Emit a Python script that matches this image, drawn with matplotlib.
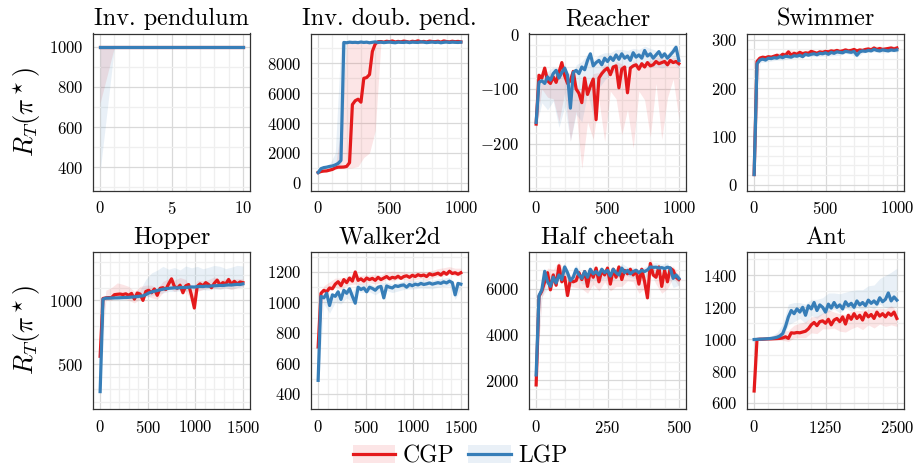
import numpy as np
import matplotlib
matplotlib.use("Agg")
import matplotlib.pyplot as plt
from matplotlib.ticker import FixedLocator, AutoMinorLocator
from matplotlib.patches import Patch
from matplotlib.lines import Line2D

plt.rcParams["font.family"] = "serif"
plt.rcParams["font.serif"] = ["cmr10"]
plt.rcParams["mathtext.fontset"] = "cm"
plt.rcParams["axes.formatter.use_mathtext"] = True

RED, BLUE = "#e41a1c", "#377eb8"

# ── data ────────────────────────────────────────────────────────────────────
# Inv. pendulum, every step (band stride 1)
pend_x = np.arange(0, 11, 1)
pend_cgp = [1000, 1000, 1000, 1000, 1000, 1000, 1000, 1000, 1000, 1000, 1000]
pend_lgp = [1000, 1000, 1000, 1000, 1000, 1000, 1000, 1000, 1000, 1000, 1000]
pend_cgp_dn = [280, 0, 0, 0, 0, 0, 0, 0, 0, 0, 0]
pend_cgp_up = [0, 0, 0, 0, 0, 0, 0, 0, 0, 0, 0]
pend_lgp_dn = [620, 0, 0, 0, 0, 0, 0, 0, 0, 0, 0]
pend_lgp_up = [0, 0, 0, 0, 0, 0, 0, 0, 0, 0, 0]

# Inv. double pendulum, step 20 (bands every 40)
doub_x = np.arange(0, 1001, 20)
doub_cgp = [690, 760, 790, 800, 850, 900, 1000, 1050, 1050, 1060, 1100, 1350,
            5240, 5500, 5600, 5400, 7000, 7050, 7250, 8800, 9300, 9450,
            9460, 9420, 9480, 9450, 9500, 9430, 9470, 9440, 9490, 9460, 9420,
            9480, 9450, 9510, 9440, 9470, 9430, 9490, 9460, 9450, 9480, 9420,
            9500, 9460, 9440, 9480, 9450, 9470, 9440]
doub_lgp = [690, 950, 1020, 1050, 1100, 1130, 1200, 1300, 1500, 9400,
            9380, 9420, 9400, 9410, 9390, 9430, 9400, 9420, 9380, 9410, 9440,
            9400, 9420, 9390, 9410, 9430, 9400, 9380, 9420, 9410, 9400, 9430,
            9390, 9420, 9410, 9400, 9440, 9420, 9390, 9410, 9430, 9400, 9420,
            9380, 9410, 9430, 9400, 9420, 9410, 9400, 9420]
doub_cgp_dn = [60, 60, 60, 80, 100, 150, 4240, 4500, 5300, 5250, 5800, 60, 40,
               40, 40, 40, 40, 40, 40, 40, 40, 40, 40, 40, 40, 40]
doub_cgp_up = [60, 60, 80, 100, 2500, 8300, 4200, 3850, 2450, 2200, 150, 50, 40,
               40, 40, 40, 40, 40, 40, 40, 40, 40, 40, 40, 40, 40]
doub_lgp_dn = [60, 80, 80, 100, 300, 40, 40, 30, 30, 30, 30, 30, 30,
               30, 30, 30, 30, 30, 30, 30, 30, 30, 30, 30, 30, 30]
doub_lgp_up = [60, 80, 120, 800, 7900, 40, 40, 30, 30, 30, 30, 30, 30,
               30, 30, 30, 30, 30, 30, 30, 30, 30, 30, 30, 30, 30]

# Reacher, step 20
reach_x = np.arange(0, 1001, 20)
reach_cgp = [-164, -75, -80, -62, -85, -90, -78, -88, -70, -52, -76, -90, -85,
             -68, -100, -108, -125, -80, -110, -95, -82, -156, -80, -72, -66,
             -62, -74, -60, -58, -98, -64, -60, -107, -62, -58, -56, -64, -54,
             -60, -52, -58, -56, -50, -54, -52, -50, -56, -48, -52, -50, -54]
reach_lgp = [-161, -88, -85, -90, -78, -84, -72, -66, -80, -70, -62, -75, -135,
             -70, -66, -72, -60, -65, -48, -36, -58, -52, -48, -56, -44, -50,
             -42, -48, -38, -46, -36, -44, -40, -48, -34, -42, -38, -44, -30,
             -40, -36, -44, -38, -32, -42, -36, -44, -38, -32, -24, -48]
reach_cgp_dn = [10, 20, 30, 40, 90, 30, 110, 40, 120, 50, 110, 40, 130, 30, 60,
                120, 30, 150, 40, 60, 130, 40, 140, 60, 30, 100]
reach_cgp_up = [8, 10, 12, 10, 12, 10, 12, 10, 12, 10, 10, 10, 12, 10, 8, 10,
                12, 10, 8, 10, 10, 8, 10, 8, 10, 10]
reach_lgp_dn = [10, 40, 60, 50, 90, 70, 60, 80, 100, 60, 90, 50, 40, 30, 30, 25,
                20, 25, 20, 20, 25, 20, 20, 15, 20, 15]
reach_lgp_up = [8, 10, 10, 12, 10, 10, 12, 10, 10, 12, 10, 10, 10, 8, 10, 8, 10,
                8, 10, 8, 10, 8, 10, 8, 10, 8]

# Swimmer, step 20
swim_x = np.arange(0, 1001, 20)
swim_cgp = [21, 255, 262, 264, 263, 265, 264, 266, 268, 265, 270, 268, 275, 268,
            272, 270, 274, 271, 273, 272, 276, 274, 272, 275, 274, 276, 275, 277,
            276, 278, 276, 277, 279, 277, 278, 280, 277, 279, 278, 280, 281, 279,
            283, 280, 282, 280, 281, 282, 283, 281, 283]
swim_lgp = [21, 250, 258, 260, 258, 262, 261, 263, 262, 265, 263, 266, 265, 264,
            267, 266, 268, 265, 270, 268, 270, 271, 269, 272, 271, 273, 270, 274,
            272, 275, 274, 273, 276, 275, 274, 276, 268, 275, 277, 276, 278, 277,
            280, 278, 277, 279, 278, 277, 279, 278, 279]
swim_cgp_dn = [10, 5, 4, 4, 5, 4, 5, 6, 4, 5, 4, 5, 4, 6, 5, 4, 5, 4, 5, 4, 5, 4,
               5, 4, 5, 4]
swim_cgp_up = [10, 5, 4, 4, 5, 4, 5, 6, 4, 5, 4, 5, 4, 6, 5, 4, 5, 4, 5, 4, 5, 4,
               5, 4, 5, 4]
swim_lgp_dn = [10, 5, 4, 5, 4, 5, 4, 5, 6, 4, 5, 4, 5, 4, 5, 6, 4, 5, 4, 5, 4, 5,
               4, 5, 4, 5]
swim_lgp_up = [10, 5, 4, 5, 4, 5, 4, 5, 6, 4, 5, 4, 5, 4, 5, 6, 4, 5, 4, 5, 4, 5,
               4, 5, 4, 5]

# Hopper, step 30
hop_x = np.arange(0, 1501, 30)
hop_cgp = [560, 1015, 1020, 1022, 1022, 1045, 1048, 1050, 1046, 1052, 1040, 1055,
           1010, 1058, 1050, 1000, 1070, 1080, 1060, 1090, 1040, 1095, 1100, 1085,
           1130, 1170, 1110, 1095, 1120, 1060, 1115, 1125, 1040, 940, 1110, 1130,
           1115, 1140, 1125, 1100, 1135, 1160, 1120, 1140, 1130, 1165, 1125, 1150,
           1130, 1145, 1140]
hop_lgp = [282, 1010, 1018, 1018, 1019, 1020, 1020, 1021, 1022, 1023, 1024, 1026,
           1028, 1030, 1033, 1036, 1045, 1058, 1066, 1072, 1078, 1083, 1088, 1092,
           1095, 1097, 1099, 1098, 1100, 1102, 1101, 1104, 1106, 1105, 1108, 1110,
           1109, 1112, 1111, 1114, 1115, 1116, 1118, 1117, 1120, 1122, 1121, 1124,
           1126, 1125, 1130]
hop_cgp_dn = [20, 20, 20, 25, 30, 40, 30, 40, 30, 40, 30, 40, 30, 40, 30, 40, 50,
              40, 30, 30, 40, 30, 30, 40, 30, 30]
hop_cgp_up = [20, 60, 80, 90, 80, 70, 60, 60, 50, 60, 50, 50, 40, 50, 60, 50, 40,
              50, 40, 40, 50, 40, 40, 40, 40, 30]
hop_lgp_dn = [20, 10, 10, 10, 10, 10, 15, 20, 20, 30, 25, 30, 25, 30, 25, 30, 25,
              30, 25, 30, 25, 30, 25, 30, 25, 25]
hop_lgp_up = [20, 10, 10, 10, 15, 20, 30, 50, 120, 150, 160, 180, 150, 160, 140,
              170, 150, 160, 140, 150, 160, 150, 130, 140, 150, 140]

# Walker2d, step 30
walk_x = np.arange(0, 1501, 30)
walk_cgp = [708, 1060, 1080, 1070, 1095, 1090, 1120, 1136, 1110, 1150, 1130, 1160,
            1140, 1200, 1145, 1155, 1140, 1160, 1150, 1158, 1145, 1165, 1150, 1160,
            1170, 1155, 1165, 1160, 1172, 1158, 1170, 1175, 1165, 1178, 1170, 1182,
            1175, 1180, 1170, 1188, 1180, 1185, 1192, 1180, 1198, 1185, 1205, 1190,
            1195, 1185, 1195]
walk_lgp = [489, 1040, 1030, 1060, 980, 1050, 1040, 1070, 1020, 1080, 1060, 1090,
            1040, 995, 1100, 1085, 1095, 1070, 1100, 1092, 1080, 1100, 1105, 1030,
            1108, 1100, 1095, 1110, 1105, 1112, 1115, 1100, 1118, 1110, 1120, 1115,
            1125, 1118, 1122, 1128, 1120, 1125, 1130, 1125, 1135, 1128, 1140, 1130,
            1050, 1125, 1120]
walk_cgp_dn = [20, 20, 20, 20, 25, 20, 20, 25, 20, 20, 25, 20, 20, 25, 20, 20, 25,
               20, 20, 25, 20, 20, 25, 20, 20, 20]
walk_cgp_up = [20, 30, 40, 40, 50, 40, 40, 30, 40, 30, 40, 30, 30, 40, 30, 30, 30,
               30, 30, 30, 30, 30, 30, 30, 30, 30]
walk_lgp_dn = [20, 40, 50, 40, 30, 30, 40, 30, 30, 30, 30, 30, 30, 30, 30, 30, 30,
               30, 30, 30, 30, 30, 30, 30, 30, 30]
walk_lgp_up = [20, 20, 30, 30, 30, 30, 30, 25, 25, 25, 25, 25, 25, 25, 25, 25, 25,
               25, 25, 25, 25, 25, 25, 25, 25, 25]

# Half cheetah, step 10
chee_x = np.arange(0, 501, 10)
chee_cgp = [1799, 5660, 5900, 6300, 6700, 5950, 6600, 6150, 7000, 6300, 6500,
            5700, 6400, 6300, 6350, 6700, 6400, 6750, 6100, 6800, 6500, 6900, 6300,
            6800, 6600, 6900, 6200, 6850, 6500, 6950, 6400, 6800, 6650, 6850, 6600,
            6800, 6200, 6850, 6300, 5600, 7100, 6600, 6500, 6950, 6100, 6800, 6300,
            6900, 6800, 6500, 6400]
chee_lgp = [2236, 5700, 5950, 6760, 6300, 6100, 6500, 6250, 6600, 6400, 6950,
            6700, 6350, 6500, 6850, 6600, 6450, 6750, 6500, 6850, 6650, 6750, 6600,
            6850, 6700, 6800, 6550, 6850, 6700, 6600, 6900, 6700, 6800, 6650, 6750,
            6800, 6700, 6800, 6750, 6820, 6950, 6930, 6940, 6900, 6920, 6880, 6940,
            6900, 6450, 6600, 6450]
chee_cgp_dn = [100, 300, 300, 400, 300, 400, 300, 300, 400, 300, 300, 400, 300,
               300, 400, 300, 300, 300, 400, 300, 400, 300, 300, 300, 300, 300]
chee_cgp_up = [100, 200, 200, 250, 200, 250, 200, 200, 250, 200, 200, 250, 200,
               200, 250, 200, 200, 200, 250, 200, 250, 200, 200, 200, 200, 200]
chee_lgp_dn = [100, 300, 300, 300, 250, 300, 250, 300, 250, 300, 250, 300, 250,
               300, 250, 300, 250, 300, 250, 300, 250, 300, 250, 300, 400, 300]
chee_lgp_up = [100, 200, 200, 200, 150, 200, 150, 200, 150, 200, 150, 200, 150,
               200, 150, 200, 150, 200, 150, 200, 150, 200, 150, 200, 150, 200]

# Ant, step 50
ant_x = np.arange(0, 2501, 50)
ant_cgp = [675, 998, 1000, 1000, 1001, 1002, 1002, 1003, 1004, 1005, 1008, 1015,
           1005, 1040, 1038, 1042, 1040, 1045, 1050, 1065, 1090, 1105, 1085, 1110,
           1115, 1100, 1125, 1090, 1120, 1130, 1110, 1140, 1095, 1150, 1125, 1160,
           1130, 1150, 1120, 1165, 1140, 1155, 1130, 1170, 1145, 1160, 1140, 1165,
           1150, 1170, 1130]
ant_lgp = [998, 999, 1000, 1001, 1002, 1003, 1005, 1008, 1012, 1020, 1035, 1080,
           1140, 1180, 1160, 1190, 1170, 1200, 1150, 1210, 1190, 1230, 1180, 1215,
           1200, 1170, 1220, 1195, 1230, 1200, 1215, 1190, 1235, 1210, 1225, 1200,
           1240, 1215, 1230, 1210, 1245, 1225, 1240, 1220, 1260, 1235, 1250, 1290,
           1240, 1265, 1245]
ant_cgp_dn = [10, 5, 5, 5, 10, 15, 20, 30, 30, 40, 50, 50, 50, 60, 50, 60, 50, 60,
              50, 60, 50, 60, 50, 60, 60, 50]
ant_cgp_up = [10, 5, 8, 15, 30, 40, 50, 50, 60, 60, 50, 60, 50, 60, 50, 50, 60, 50,
              50, 60, 50, 60, 50, 50, 60, 50]
ant_lgp_dn = [5, 5, 5, 10, 15, 30, 50, 50, 40, 50, 40, 50, 40, 50, 40, 50, 40, 50,
              40, 50, 40, 50, 40, 50, 40, 40]
ant_lgp_up = [5, 5, 10, 15, 30, 60, 80, 70, 60, 70, 60, 70, 60, 70, 60, 70, 60, 80,
              70, 80, 90, 100, 120, 150, 180, 200]

titles = ["Inv. pendulum", "Inv. doub. pend.", "Reacher", "Swimmer",
          "Hopper", "Walker2d", "Half cheetah", "Ant"]

# ── panel layout/options built from the arrays above ─────────────────────────
panels = [
    dict(x=pend_x, cgp=pend_cgp, lgp=pend_lgp, band=(pend_cgp_dn, pend_cgp_up, pend_lgp_dn, pend_lgp_up),
         stride=1, xt=[0, 5, 10], yt=[400, 600, 800, 1000], xl=(-0.5, 10.5), yl=(284, 1066), ym=2),
    dict(x=doub_x, cgp=doub_cgp, lgp=doub_lgp, band=(doub_cgp_dn, doub_cgp_up, doub_lgp_dn, doub_lgp_up),
         stride=2, xt=[0, 500, 1000], yt=[0, 2000, 4000, 6000, 8000], xl=(-50, 1050), yl=(-513, 10000), ym=2),
    dict(x=reach_x, cgp=reach_cgp, lgp=reach_lgp, band=(reach_cgp_dn, reach_cgp_up, reach_lgp_dn, reach_lgp_up),
         stride=2, xt=[0, 500, 1000], yt=[-200, -100, 0], xl=(-50, 1050), yl=(-285, 1), ym=5),
    dict(x=swim_x, cgp=swim_cgp, lgp=swim_lgp, band=(swim_cgp_dn, swim_cgp_up, swim_lgp_dn, swim_lgp_up),
         stride=2, xt=[0, 500, 1000], yt=[0, 100, 200, 300], xl=(-50, 1050), yl=(-12, 313), ym=5),
    dict(x=hop_x, cgp=hop_cgp, lgp=hop_lgp, band=(hop_cgp_dn, hop_cgp_up, hop_lgp_dn, hop_lgp_up),
         stride=2, xt=[0, 500, 1000, 1500], yt=[500, 1000], xl=(-75, 1575), yl=(145, 1381), ym=5),
    dict(x=walk_x, cgp=walk_cgp, lgp=walk_lgp, band=(walk_cgp_dn, walk_cgp_up, walk_lgp_dn, walk_lgp_up),
         stride=2, xt=[0, 500, 1000, 1500], yt=[400, 600, 800, 1000, 1200], xl=(-75, 1575), yl=(301, 1331), ym=2),
    dict(x=chee_x, cgp=chee_cgp, lgp=chee_lgp, band=(chee_cgp_dn, chee_cgp_up, chee_lgp_dn, chee_lgp_up),
         stride=2, xt=[0, 250, 500], yt=[2000, 4000, 6000], xl=(-25, 525), yl=(748, 7602), ym=5),
    dict(x=ant_x, cgp=ant_cgp, lgp=ant_lgp, band=(ant_cgp_dn, ant_cgp_up, ant_lgp_dn, ant_lgp_up),
         stride=2, xt=[0, 1250, 2500], yt=[600, 800, 1000, 1200, 1400], xl=(-125, 2625), yl=(562, 1547), ym=2),
]

W, H = 914, 467
fig = plt.figure(figsize=(W / 100, H / 100), dpi=100)
lefts = [93, 311, 529, 747]
tops = [33.5, 252]
aw, ah = 157, 157

for i, p in enumerate(panels):
    r, c = divmod(i, 4)
    ax = fig.add_axes([lefts[c] / W, 1 - (tops[r] + ah) / H, aw / W, ah / H])
    x = p["x"]
    cgp, lgp = np.array(p["cgp"], float), np.array(p["lgp"], float)
    s = p["stride"]
    cdn, cup, ldn, lup = [np.array(b, float) for b in p["band"]]
    ax.fill_between(x[::s], cgp[::s] - cdn, cgp[::s] + cup, color=RED, alpha=0.11, lw=0, zorder=2)
    ax.fill_between(x[::s], lgp[::s] - ldn, lgp[::s] + lup, color=BLUE, alpha=0.11, lw=0, zorder=2)
    ax.plot(x, cgp, color=RED, lw=2.3, zorder=3, solid_joinstyle="round")
    ax.plot(x, lgp, color=BLUE, lw=2.3, zorder=4, solid_joinstyle="round")

    ax.set_xlim(*p["xl"]); ax.set_ylim(*p["yl"])
    ax.xaxis.set_major_locator(FixedLocator(p["xt"]))
    ax.yaxis.set_major_locator(FixedLocator(p["yt"]))
    ax.xaxis.set_minor_locator(AutoMinorLocator(5))
    ax.yaxis.set_minor_locator(AutoMinorLocator(p["ym"]))
    ax.grid(True, which="major", color="#d9d9d9", lw=0.9, zorder=0)
    ax.grid(True, which="minor", color="#efefef", lw=0.9, zorder=0)
    ax.set_axisbelow(True)
    ax.tick_params(which="both", length=0, labelsize=12, pad=7)
    for sp in ax.spines.values():
        sp.set_color("#333333"); sp.set_linewidth(0.9)
    ax.set_title(titles[i], fontsize=17.5, pad=6)

for yc in (112, 330):
    fig.text(27 / W, 1 - yc / H, r"$R_T(\pi^\star)$", rotation=90, fontsize=19,
             ha="center", va="center")

handles = [(Patch(fc=RED, alpha=0.11, lw=0), Line2D([], [], color=RED, lw=2.3)),
           (Patch(fc=BLUE, alpha=0.11, lw=0), Line2D([], [], color=BLUE, lw=2.3))]
fig.legend(handles, ["CGP", "LGP"], loc="center", bbox_to_anchor=(460 / W, 11 / H),
           ncol=2, frameon=False, fontsize=17, handlelength=1.8, handleheight=0.8,
           handletextpad=0.3, columnspacing=0.6)

fig.savefig("out.png", dpi=100)
